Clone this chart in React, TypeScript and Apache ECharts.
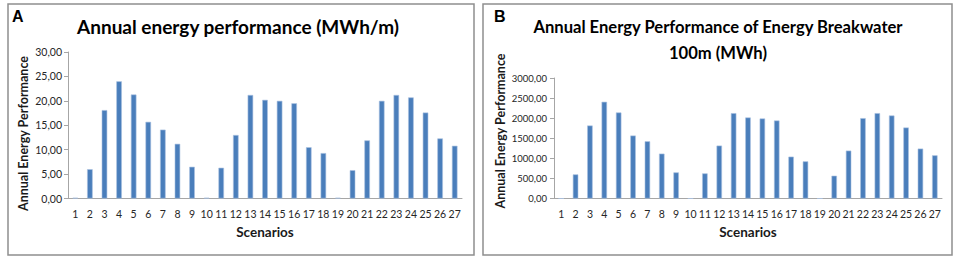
import React, { useEffect, useRef } from "react";
import * as echarts from "echarts";

const scenarios = Array.from({ length: 27 }, (_, i) => String(i + 1));

const perMeter = [
  0.15, 6.0, 18.1, 24.0, 21.3, 15.7, 14.1, 11.2, 6.5, 0.15, 6.3, 13.0, 21.2, 20.2,
  20.0, 19.5, 10.5, 9.3, 0.15, 5.8, 11.9, 20.0, 21.2, 20.7, 17.6, 12.3, 10.8,
];

const per100m = [
  0, 600, 1817, 2408, 2142, 1567, 1425, 1117, 650, 0, 625, 1317, 2125, 2017,
  1992, 1942, 1042, 925, 0, 567, 1192, 2000, 2125, 2067, 1767, 1242, 1075,
];

const titleA = "Annual energy performance (MWh/m)";
const titleB1 = "Annual Energy Performance of Energy Breakwater";
const titleB2 = "100m (MWh)";
const yName = "Annual Energy Performance";
const xName = "Scenarios";

const FONT = "Lato";
const fmt = (v: number) => v.toFixed(2).replace(".", ",");

export default function App() {
  const ref = useRef<HTMLDivElement>(null);
  useEffect(() => {
    if (!ref.current) return;
    const chart = echarts.init(ref.current, undefined, { renderer: "svg" });
    const axisLine = { show: true, lineStyle: { color: "#a6a6a6", width: 1 } };
    const barStyle = {
      color: "#4a7ebb",
      borderColor: "#a9c1e0",
      borderWidth: 0.6,
    };
    chart.setOption({
      animation: false,
      backgroundColor: "#ffffff",
      textStyle: { fontFamily: FONT },
      grid: [
        { left: 68, right: 495, top: 52, bottom: 60.5 },
        { left: 554, right: 15, top: 78, bottom: 60.5 },
      ],
      xAxis: [0, 1].map((i) => ({
        type: "category",
        gridIndex: i,
        data: scenarios,
        axisLine,
        axisTick: { show: false },
        axisLabel: {
          interval: 0,
          margin: 10,
          color: "#262626",
          fontFamily: FONT,
          fontSize: 10.5,
        },
        name: xName,
        nameLocation: "middle",
        nameGap: 26,
        nameTextStyle: {
          fontFamily: FONT,
          fontWeight: "bold",
          fontSize: 13.5,
          color: "#1a1a1a",
        },
        splitLine: { show: false },
      })),
      yAxis: [
        {
          type: "value",
          gridIndex: 0,
          min: 0,
          max: 30,
          interval: 5,
          axisLine,
          axisTick: { show: true, inside: false, length: 4, lineStyle: { color: "#a6a6a6" } },
          axisLabel: {
            margin: 6,
            color: "#262626",
            fontFamily: FONT,
            fontSize: 10.5,
            formatter: fmt,
          },
          splitLine: { show: false },
        },
        {
          type: "value",
          gridIndex: 1,
          min: 0,
          max: 3000,
          interval: 500,
          axisLine,
          axisTick: { show: true, inside: false, length: 4, lineStyle: { color: "#a6a6a6" } },
          axisLabel: {
            margin: 7,
            color: "#262626",
            fontFamily: FONT,
            fontSize: 9.5,
            formatter: fmt,
          },
          splitLine: { show: false },
        },
      ],
      series: [
        {
          type: "bar",
          xAxisIndex: 0,
          yAxisIndex: 0,
          data: perMeter,
          barWidth: "38%",
          itemStyle: barStyle,
        },
        {
          type: "bar",
          xAxisIndex: 1,
          yAxisIndex: 1,
          data: per100m,
          barWidth: "38%",
          itemStyle: barStyle,
        },
      ],
      graphic: [
        {
          type: "rect",
          shape: { x: 8, y: 4, width: 466, height: 251 },
          style: { fill: "none", stroke: "#8f8f8f", lineWidth: 1.5 },
          silent: true,
        },
        {
          type: "rect",
          shape: { x: 483, y: 4, width: 469, height: 251 },
          style: { fill: "none", stroke: "#8f8f8f", lineWidth: 1.5 },
          silent: true,
        },
        {
          type: "text",
          x: 12,
          y: 16,
          style: {
            text: "A",
            font: "bold 16px 'Liberation Sans'",
            fill: "#000",
            textAlign: "left",
            textVerticalAlign: "middle",
          },
        },
        {
          type: "text",
          x: 494,
          y: 16,
          style: {
            text: "B",
            font: "bold 16px 'Liberation Sans'",
            fill: "#000",
            textAlign: "left",
            textVerticalAlign: "middle",
          },
        },
        {
          type: "text",
          x: 238,
          y: 26,
          style: {
            text: titleA,
            font: `bold 19px ${FONT}`,
            fill: "#000",
            textAlign: "center",
            textVerticalAlign: "middle",
          },
        },
        {
          type: "text",
          x: 718,
          y: 27,
          style: {
            text: titleB1,
            font: `bold 16.6px ${FONT}`,
            fill: "#000",
            textAlign: "center",
            textVerticalAlign: "middle",
          },
        },
        {
          type: "text",
          x: 718,
          y: 53,
          style: {
            text: titleB2,
            font: `bold 16.6px ${FONT}`,
            fill: "#000",
            textAlign: "center",
            textVerticalAlign: "middle",
          },
        },
        {
          type: "text",
          x: 23,
          y: 133.5,
          rotation: Math.PI / 2,
          style: {
            text: yName,
            font: `bold 12.5px ${FONT}`,
            fill: "#1a1a1a",
            textAlign: "center",
            textVerticalAlign: "middle",
          },
        },
        {
          type: "text",
          x: 500,
          y: 131,
          rotation: Math.PI / 2,
          style: {
            text: yName,
            font: `bold 12.5px ${FONT}`,
            fill: "#1a1a1a",
            textAlign: "center",
            textVerticalAlign: "middle",
          },
        },
      ],
    });
    return () => chart.dispose();
  }, []);
  return (
    <div
      ref={ref}
      style={{ position: "absolute", left: 0, top: 0, width: 957, height: 259 }}
    />
  );
}
